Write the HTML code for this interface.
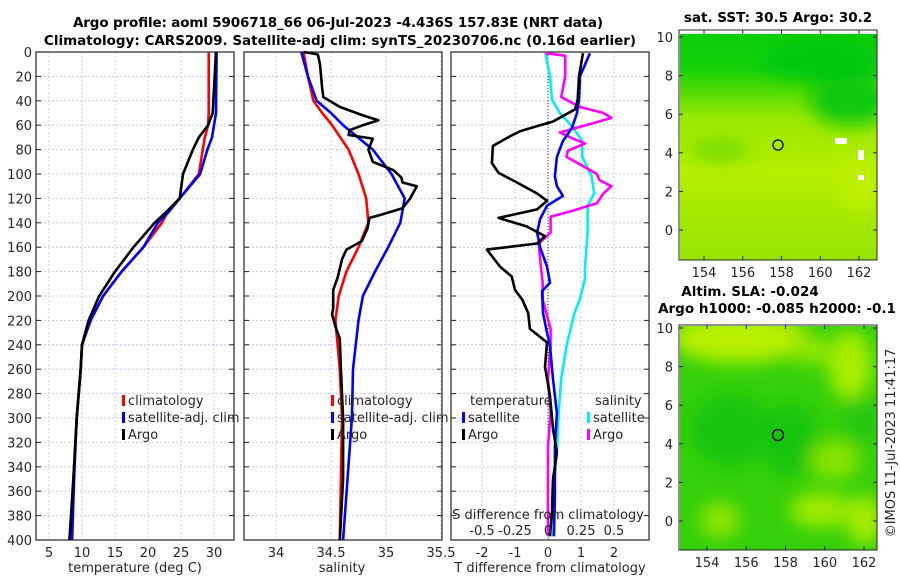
<!DOCTYPE html>
<html><head><meta charset="utf-8">
<style>
body{margin:0;background:#fff;}
svg{display:block;font-family:"DejaVu Sans","Liberation Sans",sans-serif;}
.tk{font-size:13px;fill:#262626;}
.tt{font-size:13.5px;font-weight:bold;fill:#000;}
.lg{font-size:13px;fill:#262626;}
</style></head>
<body>
<svg id="chart" width="900" height="580" viewBox="0 0 900 580">
<defs>
<filter id="blur" x="-20%" y="-20%" width="140%" height="140%"><feGaussianBlur stdDeviation="9"/></filter>
<clipPath id="clipM1"><rect x="680" y="34" width="197" height="226"/></clipPath>
<clipPath id="clipM2"><rect x="680" y="326" width="197" height="224"/></clipPath>
<linearGradient id="g1" x1="0" y1="0" x2="0" y2="1">
<stop offset="0" stop-color="#08ce0a"/><stop offset="0.15" stop-color="#14d20a"/>
<stop offset="0.27" stop-color="#5cde02"/><stop offset="0.37" stop-color="#98e800"/>
<stop offset="0.6" stop-color="#b4ee00"/><stop offset="1" stop-color="#96e404"/></linearGradient>
</defs>
<g id="titles">
<text class="tt" x="338" y="27" text-anchor="middle" textLength="530">Argo profile: aoml 5906718_66 06-Jul-2023 -4.436S 157.83E (NRT data)</text>
<text class="tt" x="340" y="45" text-anchor="middle">Climatology: CARS2009. Satellite-adj clim: synTS_20230706.nc (0.16d earlier)</text>
<text class="tt" x="778" y="22" text-anchor="middle">sat. SST: 30.5 Argo: 30.2</text>
<text class="tt" x="750" y="296" text-anchor="middle">Altim. SLA: -0.024</text>
<text class="tt" x="777" y="313" text-anchor="middle">Argo h1000: -0.085 h2000: -0.1</text>
<text class="tk" transform="translate(895,443) rotate(-90)" text-anchor="middle">©IMOS 11-Jul-2023 11:41:17</text>
</g>
<g id="maps">
<g clip-path="url(#clipM1)">
<rect x="680" y="34" width="197" height="226" fill="url(#g1)"/>
<g filter="url(#blur)">
<ellipse cx="720" cy="150" rx="30" ry="10" fill="#70dc05"/>
<ellipse cx="850" cy="100" rx="40" ry="25" fill="#08c80c"/>
<ellipse cx="820" cy="60" rx="60" ry="20" fill="#06c80a"/>
<ellipse cx="860" cy="185" rx="20" ry="25" fill="#c0f000"/>
</g>
<rect x="835" y="138" width="12" height="6" fill="#fff"/><rect x="858" y="150" width="6" height="10" fill="#fff"/><rect x="858" y="175" width="6" height="5" fill="#fff"/>
</g>
<g clip-path="url(#clipM2)">
<rect x="680" y="326" width="197" height="224" fill="#34d00a"/>
<g filter="url(#blur)">
<ellipse cx="740" cy="338" rx="70" ry="25" fill="#b8f000"/>
<ellipse cx="850" cy="365" rx="22" ry="35" fill="#a8ee00"/>
<ellipse cx="810" cy="350" rx="20" ry="15" fill="#90e600"/>
<ellipse cx="730" cy="430" rx="40" ry="35" fill="#18c410"/>
<ellipse cx="790" cy="440" rx="30" ry="35" fill="#18c410"/>
<ellipse cx="860" cy="420" rx="18" ry="25" fill="#22c80e"/>
<ellipse cx="835" cy="460" rx="25" ry="20" fill="#88e400"/>
<ellipse cx="820" cy="510" rx="30" ry="18" fill="#a0ea00"/>
<ellipse cx="720" cy="520" rx="20" ry="18" fill="#90e600"/>
<ellipse cx="865" cy="520" rx="18" ry="25" fill="#a8ec00"/>
</g>
</g>
<rect x="679" y="30" width="198" height="230" fill="none" stroke="#262626"/>
<rect x="679" y="325" width="198" height="225" fill="none" stroke="#262626"/>
<circle cx="778" cy="145" r="5" fill="none" stroke="#000" stroke-width="1.3"/>
<circle cx="778" cy="435" r="5.5" fill="none" stroke="#000" stroke-width="1.3"/>
<g id="mapTicks"></g>
</g>
<g id="panels"></g>
</svg>
<script>
// ---- data ----
const tDepth = [0,50,60,70,80,100,120,132,140,160,180,200,220,240,260,300,350,400];
const tClim  = [29.2,29.2,29.1,28.6,28.3,27.7,24.8,22.9,22.1,19.3,16,13.2,11.3,10,9.8,9.2,8.7,8.1];
const tSat   = [30.4,30.3,30.0,29.7,29.0,27.9,24.8,23.0,21.5,19.3,16,13.2,11.3,10,9.8,9.2,8.8,8.5];
const tArgo  = [30.3,29.8,29.1,27.7,26.8,25.3,24.8,22.6,21.0,17.8,15,12.6,11,10,9.8,9.2,8.7,8.1];
const sDepth = [0,20,40,50,60,80,100,120,140,160,180,200,220,260,300,400];
const sClim  = [34.25,34.29,34.34,34.42,34.51,34.66,34.75,34.82,34.84,34.75,34.64,34.57,34.54,34.58,34.6,34.58];
const sSat   = [34.23,34.29,34.37,34.5,34.61,34.88,35.05,35.17,35.13,35.02,34.9,34.79,34.75,34.7,34.69,34.61];
const sArgoDepth = [0,2,10,30,37,45,52,56,60,64,68,71,80,90,97,103,107,110,115,120,128,133,136,145,155,162,170,185,195,210,215,225,235,260,300,350,400];
const sArgo  = [34.25,34.38,34.4,34.42,34.43,34.58,34.79,34.93,34.79,34.67,34.66,34.88,34.84,34.88,35.07,35.14,35.15,35.28,35.25,35.22,35.15,34.97,34.85,34.83,34.78,34.64,34.6,34.56,34.52,34.52,34.51,34.54,34.58,34.59,34.61,34.61,34.58];
const dtArgoDepth = [1,20,39,47,57,60,65,69,77,91,99,107,116,122,129,136,143,151,157,162,176,184,195,203,214,227,238,258,282,309,328,350,377,397];
const dtArgo = [1.06,0.94,0.9,0.82,0.15,-0.24,-0.85,-1.15,-1.67,-1.7,-1.5,-0.94,-0.33,-0.03,-0.33,-1.5,-0.64,-0.09,-0.33,-1.85,-1.45,-1.1,-1.0,-0.78,-0.6,-0.55,-0.03,-0.09,0.06,0.15,0.27,0.15,0.12,0.06];
const dtSatDepth = [1,20,39,50,62,73,86,102,110,118,126,137,148,160,176,189,196,214,230,241,268,296,323,364,397];
const dtSat  = [1.27,0.97,0.94,0.88,0.73,0.45,0.27,0.21,0.27,0.45,-0.03,-0.24,-0.33,-0.24,-0.03,0.06,-0.18,-0.15,-0.03,0.06,0.15,0.27,0.21,0.21,0.18];
const dsSatDepth = [1,20,39,50,62,73,86,102,116,126,148,176,186,203,214,241,268,296,323,350,397];
const dsSat  = [-0.02,0.015,0.03,0.09,0.19,0.26,0.26,0.33,0.35,0.3,0.3,0.28,0.28,0.24,0.2,0.14,0.1,0.08,0.07,0.05,0.04];
const dsArgoDepth = [1,3,20,37,45,50,54,59,66,70,75,81,86,92,100,105,110,116,124,130,135,148,157,170,189,203,227,241,268,296,323,397];
const dsArgo = [-0.02,0.13,0.13,0.1,0.24,0.42,0.48,0.32,0.09,0.17,0.28,0.15,0.14,0.24,0.37,0.39,0.48,0.42,0.37,0.19,0.02,0.02,-0.07,-0.06,-0.04,-0.04,0.02,0.02,0.0,0.02,0.0,0.0];
const depthTicks = [0,20,40,60,80,100,120,140,160,180,200,220,240,260,280,300,320,340,360,380,400];
const tempTicks = [5,10,15,20,25,30];
const salTicks = [34,34.5,35,35.5];
const tdTicks = [-2,-1,0,1,2];
const sdTickLabels = ['-0.5','-0.25','0','0.25','0.5'];
const latTicks = [10,8,6,4,2,0];
const lonTicks = [154,156,158,160,162];

// ---- axes ----
const Y0=52, Y1=540;
const yD = d => Y0 + (d/400)*(Y1-Y0);
const xT = t => 16 + 6.6*t;
const xS = s => 276 + 110*(s-34);
const xDT = v => 548 + 33*v;
const xDS = v => 548 + 132*v;
const NS='http://www.w3.org/2000/svg';
const P=document.getElementById('panels');
function mk(tag,attrs,parent){const e=document.createElementNS(NS,tag);for(const k in attrs)e.setAttribute(k,attrs[k]);(parent||P).appendChild(e);return e;}
function line(xs,ds,fx,color,name){
  const pts=xs.map((v,i)=>fx(v).toFixed(1)+','+yD(ds[i]).toFixed(1)).join(' ');
  const e=mk('polyline',{points:pts,fill:'none',stroke:color,'stroke-width':2.6,'stroke-linejoin':'round'});
  
  
}
function panel(x0,x1,xticks,fx,labels,name,ylabels){
  const g=mk('g',{});
  
  
  depthTicks.forEach(d=>{
    const y=yD(d);
    mk('line',{x1:x0,x2:x1,y1:y,y2:y,stroke:'#b8c4e8','stroke-width':0.8,'stroke-dasharray':'2,2'},g);
    mk('line',{x1:x0,x2:x0+5,y1:y,y2:y,stroke:'#262626'},g);
    mk('line',{x1:x1-5,x2:x1,y1:y,y2:y,stroke:'#262626'},g);
    if(ylabels){const t=mk('text',{x:x0-4,y:y+5,'text-anchor':'end',class:'tk'},g);t.textContent=d;}
  });
  xticks.forEach((v,i)=>{
    const x=fx(v);
    mk('line',{x1:x,x2:x,y1:Y0,y2:Y1,stroke:'#b8c4e8','stroke-width':0.8,'stroke-dasharray':'2,2'},g);
    if(labels){const t=mk('text',{x:x,y:Y1+17,'text-anchor':'middle',class:'tk'},g);t.textContent=labels[i];}
  });
  mk('rect',{x:x0,y:Y0,width:x1-x0,height:Y1-Y0,fill:'none',stroke:'#262626','stroke-width':1.2},g);
  return g;
}
panel(36,234,tempTicks,xT,tempTicks.map(String),'temperature-panel',true);
panel(244,442,salTicks,xS,salTicks.map(String),'salinity-panel',false);
panel(451,649,tdTicks,xDT,tdTicks.map(String),'difference-panel',false);

// zero line
const z=mk('line',{x1:xDT(0),x2:xDT(0),y1:Y0,y2:Y1,stroke:'#333','stroke-width':1,'stroke-dasharray':'1,2'});



line(tClim,tDepth,xT,'#f00','temp-climatology-line');
line(tSat,tDepth,xT,'#0000ff','temp-satellite-line');
line(tArgo,tDepth,xT,'#000','temp-argo-line');
line(sClim,sDepth,xS,'#f00','sal-climatology-line');
line(sSat,sDepth,xS,'#0000ff','sal-satellite-line');
line(sArgo,sArgoDepth,xS,'#000','sal-argo-line');
line(dsSat,dsSatDepth,xDS,'#00f0f0','sdiff-satellite-line');
line(dsArgo,dsArgoDepth,xDS,'#ff00ff','sdiff-argo-line');
line(dtSat,dtSatDepth,xDT,'#0000ff','tdiff-satellite-line');
line(dtArgo,dtArgoDepth,xDT,'#000','tdiff-argo-line');

// S ticks labels
sdTickLabels.forEach(l=>{
  const t=mk('text',{x:xDS(parseFloat(l)),y:535,'text-anchor':'middle',class:'tk'});
  t.textContent=l;
  
  
});
function txt(x,y,s,name,anchor){const t=mk('text',{x:x,y:y,'text-anchor':anchor||'start',class:'tk'});t.textContent=s;return t;}
txt(548,519,'S difference from climatology','sdiff-axis-title','middle');
txt(135,572,'temperature (deg C)','temp-axis-title','middle');
txt(342,572,'salinity','sal-axis-title','middle');
txt(550,572,'T difference from climatology','tdiff-axis-title','middle');

// legends
function leg(x,y,color,label,name){
  const m=mk('rect',{x:x,y:y-10,width:3,height:11,fill:color});
  
  
  txt(x+6,y,label,name);
}
leg(122,405,'#f00','climatology','legend-climatology');
leg(122,422,'#0000ff','satellite-adj. clim','legend-satellite-adj');
leg(122,439,'#000','Argo','legend-argo');
leg(331,405,'#f00','climatology','legend2-climatology');
leg(331,422,'#0000ff','satellite-adj. clim','legend2-satellite-adj');
leg(331,439,'#000','Argo','legend2-argo');
txt(470,405,'temperature','legend-temperature-header');
leg(462,422,'#0000ff','satellite','legend-t-satellite');
leg(462,439,'#000','Argo','legend-t-argo');
txt(595,405,'salinity','legend-salinity-header');
leg(587,422,'#00f0f0','satellite','legend-s-satellite');
leg(587,439,'#ff00ff','Argo','legend-s-argo');

// map ticks
const MT=document.getElementById('mapTicks');
function mapAxes(yLat0,yLat10,xl154,xl162,ybottom,ytop){
  latTicks.forEach(v=>{
    const y=yLat0+(yLat10-yLat0)*v/10;
    const t=mk('text',{x:673,y:y+5,'text-anchor':'end',class:'tk'},MT);t.textContent=v;
    
    
    mk('line',{x1:679,x2:683,y1:y,y2:y,stroke:'#262626'},MT);
    mk('line',{x1:873,x2:877,y1:y,y2:y,stroke:'#262626'},MT);
  });
  lonTicks.forEach(v=>{
    const x=xl154+(xl162-xl154)*(v-154)/8;
    const t=mk('text',{x:x,y:ybottom+17,'text-anchor':'middle',class:'tk'},MT);t.textContent=v;
    
    
    mk('line',{x1:x,x2:x,y1:ybottom-4,y2:ybottom,stroke:'#262626'},MT);
    mk('line',{x1:x,x2:x,y1:ytop,y2:ytop+4,stroke:'#262626'},MT);
  });
}
mapAxes(230,37,704,859,260,30);
mapAxes(521,328,707,864,550,325);
</script>
</body></html>
